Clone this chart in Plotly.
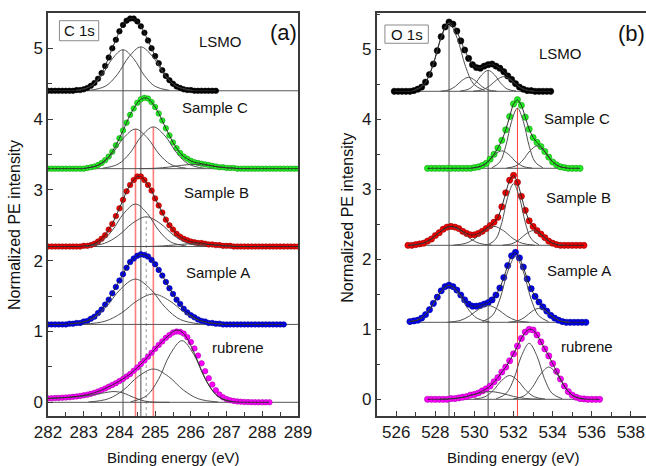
import plotly.graph_objects as go

FONT = "Liberation Sans, Arial, Helvetica, sans-serif"

# ======================= shared series info =======================
series_names = ["LSMO", "Sample C", "Sample B", "Sample A", "rubrene"]
series_colors = ["#000000", "#22ee22", "#ee0000", "#0000ee", "#ff00ff"]
series_edges = ["#000000", "#119911", "#990000", "#000099", "#aa00aa"]
series_offsets = [4.4, 3.3, 2.2, 1.1, 0.0]

# ======================= panel (a): C 1s =======================
c1s_start = 282.0
c1s_step = 0.1
c1s_lsmo = [4.40, 4.40, 4.40, 4.40, 4.40, 4.40, 4.40, 4.40, 4.41, 4.41,
            4.42, 4.44, 4.47, 4.51, 4.57, 4.65, 4.75, 4.87, 5.00, 5.12,
            5.24, 5.33, 5.39, 5.42, 5.42, 5.38, 5.31, 5.22, 5.11, 5.00,
            4.89, 4.79, 4.69, 4.61, 4.55, 4.50, 4.46, 4.44, 4.42, 4.41,
            4.41, 4.40, 4.40, 4.40, 4.40, 4.40, 4.40, 4.40]
c1s_sample_c = [3.30, 3.30, 3.30, 3.30, 3.30, 3.30, 3.30, 3.30, 3.30, 3.30,
                3.30, 3.31, 3.32, 3.33, 3.35, 3.38, 3.42, 3.47, 3.54, 3.63,
                3.73, 3.84, 3.95, 4.06, 4.15, 4.23, 4.28, 4.30, 4.29, 4.24,
                4.17, 4.08, 3.98, 3.87, 3.77, 3.67, 3.59, 3.52, 3.47, 3.44,
                3.41, 3.39, 3.38, 3.37, 3.36, 3.35, 3.34, 3.33, 3.32, 3.32,
                3.31, 3.31, 3.31, 3.30, 3.30, 3.30, 3.30, 3.30, 3.30, 3.30,
                3.30, 3.30, 3.30, 3.30, 3.30, 3.30, 3.30, 3.30, 3.30, 3.30,
                3.30]
c1s_sample_b = [2.20, 2.20, 2.20, 2.20, 2.20, 2.20, 2.20, 2.20, 2.20, 2.20,
                2.21, 2.21, 2.22, 2.24, 2.27, 2.31, 2.36, 2.44, 2.52, 2.63,
                2.74, 2.86, 2.98, 3.07, 3.14, 3.19, 3.19, 3.14, 3.07, 2.99,
                2.88, 2.78, 2.68, 2.58, 2.50, 2.44, 2.38, 2.34, 2.31, 2.29,
                2.27, 2.26, 2.25, 2.25, 2.24, 2.23, 2.23, 2.22, 2.22, 2.21,
                2.21, 2.21, 2.20, 2.20, 2.20, 2.20, 2.20, 2.20, 2.20, 2.20,
                2.20, 2.20, 2.20, 2.20, 2.20, 2.20, 2.20, 2.20, 2.20, 2.20,
                2.20]
c1s_sample_a = [1.10, 1.10, 1.10, 1.10, 1.10, 1.10, 1.11, 1.11, 1.12, 1.12,
                1.14, 1.15, 1.18, 1.21, 1.26, 1.31, 1.38, 1.45, 1.54, 1.63,
                1.72, 1.81, 1.90, 1.98, 2.03, 2.07, 2.09, 2.08, 2.06, 2.01,
                1.95, 1.87, 1.79, 1.70, 1.61, 1.53, 1.45, 1.39, 1.32, 1.27,
                1.23, 1.20, 1.17, 1.15, 1.14, 1.12, 1.12, 1.11, 1.11, 1.10,
                1.10, 1.10, 1.10, 1.10, 1.10, 1.10, 1.10, 1.10, 1.10, 1.10,
                1.10, 1.10, 1.10, 1.10, 1.10, 1.10, 1.10]
c1s_rubrene = [0.055, 0.057, 0.060, 0.062, 0.065, 0.068, 0.072, 0.077, 0.083, 0.090,
               0.098, 0.108, 0.120, 0.135, 0.152, 0.172, 0.195, 0.220, 0.245, 0.270,
               0.300, 0.330, 0.365, 0.400, 0.445, 0.490, 0.540, 0.590, 0.645, 0.700,
               0.755, 0.810, 0.860, 0.910, 0.950, 0.985, 1.000, 0.995, 0.970, 0.920,
               0.850, 0.760, 0.660, 0.550, 0.440, 0.340, 0.250, 0.170, 0.110, 0.070,
               0.045, 0.030, 0.020, 0.013, 0.008, 0.005, 0.003, 0.002, 0.001, 0.0,
               0.0, 0.0, 0.0]
# fitted envelope of rubrene C 1s (differs from the data on the high-energy side)
c1s_rubrene_fit = [0.055, 0.057, 0.060, 0.062, 0.065, 0.068, 0.072, 0.077, 0.083, 0.090,
                   0.098, 0.108, 0.120, 0.135, 0.152, 0.172, 0.195, 0.220, 0.245, 0.270,
                   0.300, 0.330, 0.365, 0.400, 0.445, 0.490, 0.540, 0.590, 0.645, 0.700,
                   0.755, 0.810, 0.860, 0.910, 0.950, 1.000, 1.020, 1.010, 0.970, 0.900,
                   0.800, 0.690, 0.570, 0.450, 0.340, 0.245, 0.170, 0.110, 0.070, 0.042,
                   0.024, 0.013, 0.007, 0.004, 0.002, 0.001, 0.0, 0.0, 0.0, 0.0,
                   0.0, 0.0, 0.0]

# fitted components (knots of each peak, spline-drawn)
c1s_comp_x = [
    [282.80, 283.20, 283.50, 283.80, 284.10, 284.40, 284.70, 285.00, 285.40],
    [283.17, 283.61, 283.94, 284.27, 284.60, 284.93, 285.26, 285.59, 286.03],
    [283.02, 283.46, 283.79, 284.12, 284.45, 284.78, 285.11, 285.44, 285.88],
    [283.52, 283.96, 284.29, 284.62, 284.95, 285.28, 285.61, 285.94, 286.38],
    [284.54, 285.02, 285.38, 285.74, 286.10, 286.46, 286.82, 287.18, 287.66],
    [283.02, 283.46, 283.79, 284.12, 284.45, 284.78, 285.11, 285.44, 285.88],
    [283.06, 283.58, 283.97, 284.36, 284.75, 285.14, 285.53, 285.92, 286.44],
    [284.54, 285.02, 285.38, 285.74, 286.10, 286.46, 286.82, 287.18, 287.66],
    [282.63, 283.19, 283.61, 284.03, 284.45, 284.87, 285.29, 285.71, 286.27],
    [283.00, 283.60, 284.05, 284.50, 284.95, 285.40, 285.85, 286.30, 286.90],
    [282.00, 282.40, 282.80, 283.20, 283.50, 283.85, 284.10, 284.40, 284.70, 285.00, 285.40],
    [283.13, 283.69, 284.11, 284.53, 284.95, 285.37, 285.79, 286.21, 286.77],
    [284.32, 284.76, 285.09, 285.42, 285.75, 286.08, 286.41, 286.74, 287.18],
]
c1s_comp_y = [
    [4.405, 4.462, 4.614, 4.852, 4.98, 4.852, 4.614, 4.462, 4.405],
    [4.406, 4.466, 4.629, 4.883, 5.02, 4.883, 4.629, 4.466, 4.406],
    [3.305, 3.359, 3.507, 3.736, 3.86, 3.736, 3.507, 3.359, 3.305],
    [3.305, 3.363, 3.518, 3.760, 3.89, 3.760, 3.518, 3.363, 3.305],
    [3.301, 3.306, 3.322, 3.347, 3.36, 3.347, 3.322, 3.306, 3.301],
    [2.206, 2.264, 2.421, 2.667, 2.80, 2.667, 2.421, 2.264, 2.206],
    [2.204, 2.245, 2.355, 2.527, 2.62, 2.527, 2.355, 2.245, 2.204],
    [2.200, 2.204, 2.215, 2.231, 2.24, 2.231, 2.215, 2.204, 2.200],
    [1.106, 1.168, 1.336, 1.599, 1.74, 1.599, 1.336, 1.168, 1.106],
    [1.104, 1.146, 1.259, 1.435, 1.53, 1.435, 1.259, 1.146, 1.104],
    [0.055, 0.064, 0.078, 0.101, 0.127, 0.152, 0.132, 0.069, 0.018, 0.002, 0.0],
    [0.004, 0.050, 0.173, 0.366, 0.47, 0.366, 0.173, 0.050, 0.004],
    [0.008, 0.092, 0.321, 0.678, 0.87, 0.678, 0.321, 0.092, 0.008],
]
# vertical guide lines: position, top end, style
c1s_vline_x = [284.10, 284.60, 284.45, 284.95, 284.75]
c1s_vline_top = [4.98, 5.02, 3.86, 3.89, 2.62]
c1s_vline_kind = ["grey", "grey", "red", "red", "dot"]

# ======================= panel (b): O 1s =======================
o1s_step = 0.2
o1s_starts = [525.9, 527.6, 526.6, 526.7, 527.6]
o1s_lsmo = [4.40, 4.40, 4.40, 4.40, 4.40, 4.41, 4.43, 4.46, 4.53, 4.64,
            4.79, 4.98, 5.18, 5.32, 5.39, 5.36, 5.26, 5.12, 4.99, 4.87,
            4.78, 4.74, 4.73, 4.76, 4.78, 4.79, 4.76, 4.73, 4.68, 4.62,
            4.57, 4.51, 4.46, 4.43, 4.41, 4.41, 4.40, 4.40, 4.40, 4.40,
            4.40]
o1s_sample_c = [3.30, 3.30, 3.30, 3.30, 3.30, 3.30, 3.30, 3.30, 3.30, 3.30,
                3.30, 3.30, 3.31, 3.32, 3.34, 3.37, 3.43, 3.50, 3.59, 3.70,
                3.85, 4.04, 4.22, 4.28, 4.20, 4.03, 3.86, 3.74, 3.67, 3.61,
                3.54, 3.46, 3.39, 3.35, 3.32, 3.31, 3.30, 3.30, 3.30, 3.30]
o1s_sample_b = [2.20, 2.20, 2.21, 2.22, 2.23, 2.26, 2.29, 2.34, 2.38, 2.43,
                2.46, 2.47, 2.46, 2.44, 2.40, 2.37, 2.35, 2.35, 2.37, 2.40,
                2.44, 2.48, 2.53, 2.60, 2.75, 2.95, 3.13, 3.20, 3.10, 2.90,
                2.70, 2.55, 2.47, 2.41, 2.36, 2.31, 2.26, 2.23, 2.21, 2.20,
                2.20, 2.20, 2.20, 2.20, 2.20, 2.20]
o1s_sample_a = [1.11, 1.12, 1.13, 1.16, 1.21, 1.28, 1.37, 1.46, 1.55, 1.61,
                1.63, 1.61, 1.56, 1.49, 1.42, 1.36, 1.33, 1.33, 1.34, 1.36,
                1.38, 1.42, 1.49, 1.59, 1.74, 1.91, 2.05, 2.10, 2.02, 1.89,
                1.72, 1.58, 1.47, 1.39, 1.32, 1.26, 1.20, 1.16, 1.13, 1.11,
                1.10, 1.10, 1.10, 1.10, 1.10, 1.10]
o1s_rubrene = [0.00, 0.00, 0.00, 0.00, 0.00, 0.00, 0.01, 0.01, 0.02, 0.03,
               0.04, 0.06, 0.07, 0.09, 0.12, 0.15, 0.19, 0.25, 0.31, 0.39,
               0.46, 0.55, 0.65, 0.76, 0.87, 0.96, 1.00, 0.99, 0.92, 0.82,
               0.72, 0.62, 0.51, 0.40, 0.29, 0.19, 0.11, 0.06, 0.03, 0.01,
               0.005, 0.00, 0.00, 0.00, 0.00]

o1s_comp_x = [
    [526.88, 527.44, 527.86, 528.28, 528.70, 529.12, 529.54, 529.96, 530.52],
    [528.27, 528.71, 529.04, 529.37, 529.70, 530.03, 530.36, 530.69, 531.13],
    [529.27, 529.71, 530.04, 530.37, 530.70, 531.03, 531.36, 531.69, 532.13],
    [529.94, 530.42, 530.78, 531.14, 531.50, 531.86, 532.22, 532.58, 533.06],
    [530.90, 531.30, 531.60, 531.90, 532.20, 532.50, 532.80, 533.10, 533.50],
    [529.84, 530.32, 530.68, 531.04, 531.40, 531.76, 532.12, 532.48, 532.96],
    [531.64, 532.12, 532.48, 532.84, 533.20, 533.56, 533.92, 534.28, 534.76],
    [526.72, 527.36, 527.84, 528.32, 528.80, 529.28, 529.76, 530.24, 530.88],
    [528.92, 529.56, 530.04, 530.52, 531.00, 531.48, 531.96, 532.44, 533.08],
    [530.70, 531.10, 531.40, 531.70, 532.00, 532.30, 532.60, 532.90, 533.30],
    [531.44, 531.92, 532.28, 532.64, 533.00, 533.36, 533.72, 534.08, 534.56],
    [526.62, 527.26, 527.74, 528.22, 528.70, 529.18, 529.66, 530.14, 530.78],
    [528.62, 529.26, 529.74, 530.22, 530.70, 531.18, 531.66, 532.14, 532.78],
    [530.41, 530.93, 531.32, 531.71, 532.10, 532.49, 532.88, 533.27, 533.79],
    [531.74, 532.22, 532.58, 532.94, 533.30, 533.66, 534.02, 534.38, 534.86],
    [528.20, 529.00, 529.60, 530.20, 530.80, 531.40, 532.00, 532.60, 533.40],
    [529.98, 530.54, 530.96, 531.38, 531.80, 532.22, 532.64, 533.06, 533.62],
    [531.11, 531.63, 532.02, 532.41, 532.80, 533.19, 533.58, 533.97, 534.49],
    [531.98, 532.54, 532.96, 533.38, 533.80, 534.22, 534.64, 535.06, 535.62],
]
o1s_comp_y = [
    [4.409, 4.503, 4.758, 5.156, 5.37, 5.156, 4.758, 4.503, 4.409],
    [4.402, 4.421, 4.474, 4.556, 4.60, 4.556, 4.474, 4.421, 4.402],
    [4.403, 4.432, 4.511, 4.634, 4.70, 4.634, 4.511, 4.432, 4.403],
    [4.402, 4.422, 4.478, 4.564, 4.61, 4.564, 4.478, 4.422, 4.402],
    [3.308, 3.391, 3.617, 3.970, 4.16, 3.970, 3.617, 3.391, 3.308],
    [3.302, 3.327, 3.392, 3.495, 3.55, 3.495, 3.392, 3.327, 3.302],
    [3.303, 3.334, 3.418, 3.549, 3.62, 3.549, 3.418, 3.334, 3.303],
    [2.202, 2.229, 2.300, 2.410, 2.47, 2.410, 2.300, 2.229, 2.202],
    [2.202, 2.229, 2.300, 2.410, 2.47, 2.410, 2.300, 2.229, 2.202],
    [2.208, 2.293, 2.525, 2.886, 3.08, 2.886, 2.525, 2.293, 2.208],
    [2.202, 2.222, 2.278, 2.364, 2.41, 2.364, 2.278, 2.222, 2.202],
    [1.105, 1.156, 1.296, 1.513, 1.63, 1.513, 1.296, 1.156, 1.105],
    [1.102, 1.125, 1.189, 1.287, 1.34, 1.287, 1.189, 1.125, 1.102],
    [1.109, 1.200, 1.447, 1.832, 2.04, 1.832, 1.447, 1.200, 1.109],
    [1.102, 1.121, 1.174, 1.256, 1.30, 1.256, 1.174, 1.121, 1.102],
    [0.001, 0.012, 0.041, 0.086, 0.11, 0.086, 0.041, 0.012, 0.001],
    [0.003, 0.036, 0.126, 0.265, 0.34, 0.265, 0.126, 0.036, 0.003],
    [0.007, 0.085, 0.295, 0.623, 0.80, 0.623, 0.295, 0.085, 0.007],
    [0.004, 0.049, 0.170, 0.358, 0.46, 0.358, 0.170, 0.049, 0.004],
]
o1s_vline_x = [528.70, 530.70, 532.20]
o1s_vline_top = [5.37, 4.70, 4.16]
o1s_vline_kind = ["grey", "grey", "red2"]

# label positions (data coordinates)
c1s_label_x = [286.82, 286.68, 286.71, 286.76, 287.32]
c1s_label_y = [5.09, 4.17, 2.97, 1.83, 0.77]
o1s_label_x = [534.41, 535.26, 535.30, 535.33, 535.74]
o1s_label_y = [4.94, 4.01, 2.89, 1.84, 0.75]

# axis ranges
c1s_xrange = [282.0, 289.0]
c1s_yrange = [-0.1935, 5.4986]
o1s_xrange = [525.0, 538.775]
o1s_yrange = [-0.2386, 5.5186]

# ======================= build figure =======================
fig = go.Figure()
c1s_data = [c1s_lsmo, c1s_sample_c, c1s_sample_b, c1s_sample_a, c1s_rubrene]
o1s_data = [o1s_lsmo, o1s_sample_c, o1s_sample_b, o1s_sample_a, o1s_rubrene]


def energies(start, step, n):
    return [round(start + i * step, 3) for i in range(n)]


vstyles = {
    "grey": dict(color="#4a4a4a", width=1),
    "red": dict(color="rgba(255,70,70,0.7)", width=1.6),
    "red2": dict(color="rgba(255,40,40,0.9)", width=1),
    "dot": dict(color="#9a9a9a", width=1, dash="dot"),
}


def add_panel(xa, ya, data, starts, step, comps_x, comps_y, vx, vtop, vkind,
              yr, baseline_full, msize, fits):
    # vertical guide lines
    for x, top, kind in zip(vx, vtop, vkind):
        fig.add_trace(go.Scatter(x=[x, x], y=[yr[0], top], mode="lines",
                                 line=vstyles[kind], xaxis=xa, yaxis=ya,
                                 hoverinfo="skip"))
    # baselines
    for i, vals in enumerate(data):
        xs = energies(starts[i], step, len(vals))
        bx = baseline_full if baseline_full else [xs[0], xs[-1]]
        fig.add_trace(go.Scatter(x=bx, y=[series_offsets[i]] * 2, mode="lines",
                                 line=dict(color="#555555", width=1),
                                 xaxis=xa, yaxis=ya, hoverinfo="skip"))
    # data points
    for i, vals in enumerate(data):
        xs = energies(starts[i], step, len(vals))
        fig.add_trace(go.Scatter(
            x=xs, y=vals, mode="markers", name=series_names[i],
            marker=dict(size=msize, color=series_colors[i],
                        line=dict(color=series_edges[i], width=0.6)),
            xaxis=xa, yaxis=ya))
    # fit components
    for cx, cy in zip(comps_x, comps_y):
        fig.add_trace(go.Scatter(x=cx, y=cy, mode="lines",
                                 line=dict(color="#505050", width=1,
                                           shape="spline", smoothing=1.0),
                                 xaxis=xa, yaxis=ya, hoverinfo="skip"))
    # fit envelopes
    for i, vals in enumerate(fits):
        xs = energies(starts[i], step, len(vals))
        fig.add_trace(go.Scatter(x=xs, y=vals, mode="lines",
                                 line=dict(color="#2a2a2a", width=1,
                                           shape="spline", smoothing=0.6),
                                 xaxis=xa, yaxis=ya, hoverinfo="skip"))


c1s_fits = [c1s_lsmo, c1s_sample_c, c1s_sample_b, c1s_sample_a, c1s_rubrene_fit]
add_panel("x", "y", c1s_data, [c1s_start] * 5, c1s_step, c1s_comp_x, c1s_comp_y,
          c1s_vline_x, c1s_vline_top, c1s_vline_kind, c1s_yrange, c1s_xrange,
          5.5, c1s_fits)
add_panel("x2", "y2", o1s_data, o1s_starts, o1s_step, o1s_comp_x, o1s_comp_y,
          o1s_vline_x, o1s_vline_top, o1s_vline_kind, o1s_yrange, None,
          6.2, o1s_data)

ann = []
for i, name in enumerate(series_names):
    ann.append(dict(x=c1s_label_x[i], y=c1s_label_y[i], xref="x", yref="y",
                    text=name, showarrow=False, xanchor="center",
                    font=dict(size=15, color="#111")))
    ann.append(dict(x=o1s_label_x[i], y=o1s_label_y[i], xref="x2", yref="y2",
                    text=name, showarrow=False, xanchor="center",
                    font=dict(size=15, color="#111")))
ann += [
    dict(x=288.59, y=5.23, xref="x", yref="y", text="(a)", showarrow=False,
         xanchor="center", font=dict(size=22, color="#111")),
    dict(x=538.04, y=5.23, xref="x2", yref="y2", text="(b)", showarrow=False,
         xanchor="center", font=dict(size=22, color="#111")),
    dict(x=282.87, y=5.25, xref="x", yref="y", text="C 1s", showarrow=False,
         xanchor="center", font=dict(size=15, color="#111")),
    dict(x=526.53, y=5.216, xref="x2", yref="y2", text="O 1s", showarrow=False,
         xanchor="center", font=dict(size=15, color="#111")),
    dict(x=0.2095, y=-0.1042, xref="paper", yref="paper",
         text="Binding energy (eV)", showarrow=False, xanchor="center",
         yanchor="middle", font=dict(size=15, color="#111")),
    dict(x=0.7781, y=-0.1042, xref="paper", yref="paper",
         text="Binding energy (eV)", showarrow=False, xanchor="center",
         yanchor="middle", font=dict(size=15, color="#111")),
    dict(x=-0.0552, y=0.474, xref="paper", yref="paper",
         text="Normalized PE intensity", showarrow=False, textangle=-90,
         xanchor="center", yanchor="middle", font=dict(size=16, color="#111")),
    dict(x=0.4995, y=0.4913, xref="paper", yref="paper",
         text="Normalized PE intensity", showarrow=False, textangle=-90,
         xanchor="center", yanchor="middle", font=dict(size=16, color="#111")),
]

shapes = [
    dict(type="rect", xref="x", yref="y", x0=282.32, x1=283.42, y0=5.107, y1=5.39,
         line=dict(color="#8a8a8a", width=1)),
    dict(type="rect", xref="x2", yref="y2", x0=525.42, x1=527.64, y0=5.086, y1=5.347,
         line=dict(color="#8a8a8a", width=1)),
]

axis_common = dict(showline=True, linecolor="#3a3a3a", linewidth=1.5,
                   ticks="inside", ticklen=5, tickwidth=1.2, tickcolor="#3a3a3a",
                   showgrid=False, zeroline=False, automargin=False,
                   tickfont=dict(size=17, color="#1a1a1a", family=FONT))

fig.update_layout(
    width=646, height=466,
    margin=dict(l=48, r=0, t=13, b=50),
    paper_bgcolor="white", plot_bgcolor="white",
    showlegend=False,
    font=dict(family=FONT, size=17, color="#1a1a1a"),
    annotations=ann, shapes=shapes,
    xaxis=dict(domain=[0, 0.41806], range=c1s_xrange, dtick=1, tick0=282,
               mirror=True, anchor="y",
               minor=dict(dtick=0.5, ticks="inside", ticklen=4,
                          tickcolor="#3a3a3a", tickwidth=1.2),
               **axis_common),
    yaxis=dict(domain=[0, 1], range=c1s_yrange, dtick=1, tick0=0,
               mirror=True, anchor="x",
               minor=dict(dtick=0.5, ticks="inside", ticklen=4,
                          tickcolor="#3a3a3a", tickwidth=1.2),
               **axis_common),
    xaxis2=dict(domain=[0.54967, 1], range=o1s_xrange, dtick=2, tick0=526,
                mirror=True, anchor="y2",
                minor=dict(dtick=1, ticks="inside", ticklen=4,
                           tickcolor="#3a3a3a", tickwidth=1.2),
                **axis_common),
    yaxis2=dict(domain=[0, 1], range=o1s_yrange, dtick=1, tick0=0,
                mirror=False, anchor="x2",
                minor=dict(dtick=0.5, ticks="inside", ticklen=4,
                           tickcolor="#3a3a3a", tickwidth=1.2),
                **axis_common),
)

fig.write_html("out.html")
